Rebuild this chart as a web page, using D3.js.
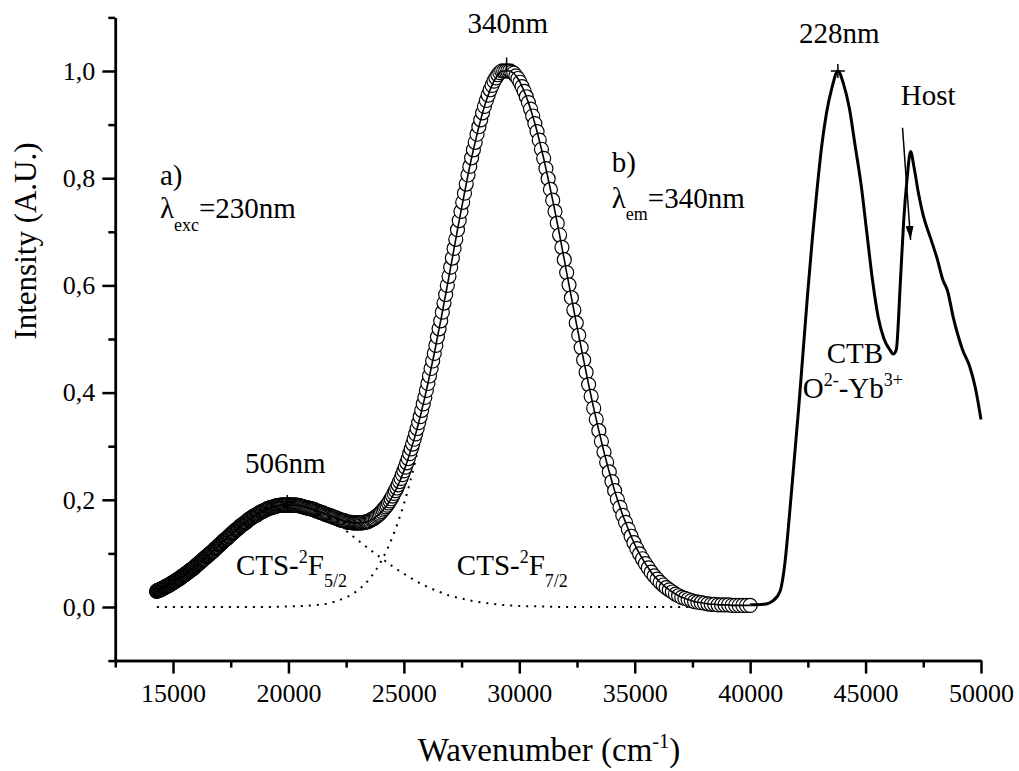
<!DOCTYPE html>
<html>
<head>
<meta charset="utf-8">
<script src="https://cdn.jsdelivr.net/npm/d3@7"></script>
<style>
  body { margin: 0; background: #fff; }
  svg text { font-family: 'Liberation Serif', 'Times New Roman', serif; fill: #000; }
</style>
</head>
<body>
<svg id="chart"></svg>
<script>
// emission spectrum (lambda_exc = 230nm): [wavelength nm, intensity]
const emission = [
  [700,.029],[699,.030],[698,.030],[697,.031],[696,.031],[695,.031],[694,.032],[693,.032],[692,.032],[691,.033],
  [690,.033],[689,.034],[688,.034],[687,.035],[686,.035],[685,.036],[684,.036],[683,.037],[682,.037],[681,.038],
  [680,.038],[679,.039],[678,.039],[677,.040],[676,.040],[675,.041],[674,.041],[673,.042],[672,.042],[671,.043],
  [670,.044],[669,.044],[668,.045],[667,.045],[666,.046],[665,.047],[664,.047],[663,.048],[662,.049],[661,.049],
  [660,.050],[659,.050],[658,.051],[657,.052],[656,.052],[655,.053],[654,.054],[653,.054],[652,.055],[651,.056],
  [650,.057],[649,.057],[648,.058],[647,.059],[646,.060],[645,.060],[644,.061],[643,.062],[642,.063],[641,.063],
  [640,.064],[639,.065],[638,.066],[637,.067],[636,.068],[635,.068],[634,.069],[633,.070],[632,.071],[631,.071],
  [630,.072],[629,.073],[628,.074],[627,.075],[626,.076],[625,.077],[624,.078],[623,.079],[622,.080],[621,.081],
  [620,.082],[619,.083],[618,.084],[617,.085],[616,.086],[615,.087],[614,.088],[613,.089],[612,.090],[611,.091],
  [610,.091],[609,.093],[608,.094],[607,.095],[606,.096],[605,.097],[604,.098],[603,.099],[602,.100],[601,.101],
  [600,.102],[599,.103],[598,.104],[597,.105],[596,.106],[595,.108],[594,.109],[593,.110],[592,.111],[591,.112],
  [590,.113],[589,.115],[588,.116],[587,.117],[586,.118],[585,.119],[584,.120],[583,.122],[582,.123],[581,.124],
  [580,.125],[579,.126],[578,.127],[577,.128],[576,.129],[575,.131],[574,.132],[573,.133],[572,.134],[571,.136],
  [570,.137],[569,.138],[568,.139],[567,.140],[566,.141],[565,.143],[564,.144],[563,.145],[562,.146],[561,.147],
  [560,.148],[559,.150],[558,.151],[557,.152],[556,.153],[555,.154],[554,.155],[553,.156],[552,.157],[551,.158],
  [550,.159],[549,.161],[548,.162],[547,.163],[546,.164],[545,.165],[544,.166],[543,.167],[542,.168],[541,.169],
  [540,.170],[539,.171],[538,.171],[537,.172],[536,.173],[535,.174],[534,.175],[533,.176],[532,.177],[531,.178],
  [530,.178],[529,.179],[528,.180],[527,.181],[526,.181],[525,.182],[524,.183],[523,.184],[522,.184],[521,.185],
  [520,.185],[519,.186],[518,.186],[517,.187],[516,.187],[515,.188],[514,.188],[513,.189],[512,.189],[511,.189],
  [510,.189],[509,.190],[508,.190],[507,.190],[506,.190],[505,.190],[504,.190],[503,.190],[502,.190],[501,.190],
  [500,.191],[499,.190],[498,.190],[497,.190],[496,.190],[495,.190],[494,.190],[493,.190],[492,.190],[491,.190],
  [490,.189],[489,.189],[488,.189],[487,.188],[486,.188],[485,.187],[484,.187],[483,.186],[482,.186],[481,.185],
  [480,.185],[479,.184],[478,.184],[477,.183],[476,.183],[475,.182],[474,.182],[473,.181],[472,.180],[471,.179],
  [470,.179],[469,.178],[468,.177],[467,.176],[466,.176],[465,.175],[464,.174],[463,.173],[462,.173],[461,.172],
  [460,.171],[459,.170],[458,.170],[457,.169],[456,.168],[455,.167],[454,.167],[453,.166],[452,.165],[451,.164],
  [450,.163],[449,.162],[448,.162],[447,.161],[446,.161],[445,.160],[444,.159],[443,.158],[442,.158],[441,.158],
  [440,.158],[439,.157],[438,.157],[437,.157],[436,.157],[435,.157],[434,.157],[433,.157],[432,.157],[431,.157],
  [430,.158],[429,.158],[428,.159],[427,.159],[426,.160],[425,.161],[424,.163],[423,.164],[422,.165],[421,.167],
  [420,.169],[419,.171],[418,.173],[417,.175],[416,.178],[415,.181],[414,.184],[413,.187],[412,.190],[411,.194],
  [410,.198],[409,.202],[408,.207],[407,.212],[406,.217],[405,.222],[404,.228],[403,.234],[402,.240],[401,.247],
  [400,.254],[399,.261],[398,.269],[397,.277],[396,.286],[395,.295],[394,.304],[393,.313],[392,.323],[391,.333],
  [390,.344],[389,.355],[388,.367],[387,.379],[386,.391],[385,.404],[384,.417],[383,.431],[382,.445],[381,.459],
  [380,.473],[379,.488],[378,.504],[377,.519],[376,.534],[375,.550],[374,.567],[373,.583],[372,.600],[371,.617],
  [370,.634],[369,.651],[368,.669],[367,.686],[366,.704],[365,.721],[364,.738],[363,.755],[362,.772],[361,.789],
  [360,.806],[359,.822],[358,.838],[357,.853],[356,.867],[355,.882],[354,.896],[353,.909],[352,.922],[351,.934],
  [350,.945],[349,.955],[348,.965],[347,.973],[346,.981],[345,.987],[344,.993],[343,.997],[342,1.0],[341,1.0],
  [340,1.0],[339,1.0],[338,1.0],[337,.998],[336,.996],[335,.991],[334,.986],[333,.979],[332,.971],[331,.962],
  [330,.952],[329,.941],[328,.929],[327,.916],[326,.902],[325,.887],[324,.871],[323,.854],[322,.837],[321,.818],
  [320,.799],[319,.779],[318,.759],[317,.738],[316,.716],[315,.694],[314,.671],[313,.648],[312,.624],[311,.601],
  [310,.577],[309,.554],[308,.530],[307,.507],[306,.484],[305,.461],[304,.438],[303,.415],[302,.393],[301,.371],
  [300,.350],[299,.329],[298,.309],[297,.289],[296,.270],[295,.252],[294,.234],[293,.217],[292,.201],[291,.186],
  [290,.171],[289,.158],[288,.145],[287,.132],[286,.120],[285,.109],[284,.099],[283,.090],[282,.081],[281,.073],
  [280,.065],[279,.058],[278,.052],[277,.046],[276,.041],[275,.036],[274,.032],[273,.028],[272,.024],[271,.021],
  [270,.018],[269,.016],[268,.014],[267,.012],[266,.010],[265,.009],[264,.008],[263,.007],[262,.006],[261,.005],
  [260,.005],[259,.004],[258,.004],[257,.004],[256,.004],[255,.003],[254,.003],[253,.003],[252,.003],[251,.003],
  [250,.003]
];

// fitted components: [wavenumber cm-1, intensity]
const compF52 = [
  [14300,.030],[14500,.034],[15000,.046],[15500,.060],[16000,.077],[16500,.096],[17000,.115],[17500,.135],
  [18000,.153],[18500,.169],[19000,.181],[19500,.188],[19900,.190],[20500,.187],[21000,.180],[21500,.170],
  [22000,.157],[22500,.142],[23000,.125],[23500,.108],[24000,.092],[24500,.076],[25000,.062],[25500,.049],
  [26000,.038],[26500,.029],[27000,.021],[27500,.016],[28000,.011],[28500,.008],[29000,.005],[30000,.002],
  [31000,.001],[32000,0],[34000,0],[37000,0],[40000,0]
];
const compF72 = [
  [14300,0],[17000,0],[19000,0],[20000,.001],[21000,.003],[21500,.005],[22000,.010],[22500,.018],
  [23000,.031],[23500,.052],[24000,.084],[24500,.130],[25000,.192],[25500,.273],[26000,.371],[26500,.485],
  [27000,.607],[27500,.729],[28000,.839],[28500,.928],[29000,.983],[29450,1.0],[30000,.979],[30500,.926],
  [31000,.846],[31500,.746],[32000,.636],[32500,.523],[33000,.416],[33500,.319],[34000,.237],[34500,.169],
  [35000,.117],[35500,.078],[36000,.051],[36500,.031],[37000,.019],[37500,.011],[38000,.006],[38500,.003],
  [39000,.002],[39500,.001],[40000,0]
];

// excitation spectrum (lambda_em = 340nm): [wavenumber cm-1, intensity]
const excitation = [
  [40000,.004],[40600,.005],[41000,.012],[41300,.03],[41500,.08],[41700,.17],[41900,.27],[42100,.37],
  [42300,.48],[42500,.59],[42700,.69],[42900,.78],[43100,.86],[43300,.92],[43550,.97],[43800,1.0],
  [44050,.975],[44300,.93],[44550,.86],[44800,.79],[45050,.70],[45300,.61],[45550,.54],[45800,.50],
  [46050,.48],[46200,.472],[46330,.48],[46500,.60],[46650,.72],[46800,.80],[46950,.85],[47100,.82],
  [47300,.77],[47500,.73],[47800,.69],[48100,.65],[48350,.61],[48550,.59],[48800,.54],[49050,.50],
  [49200,.48],[49500,.45],[49750,.41],[50000,.35]
];

const peakMarks = [[19950, .196], [29450, 1.012], [43800, 1.0]];
const hostArrow = [[46600, .894], [46950, .685]];

const xMajor = [15000, 20000, 25000, 30000, 35000, 40000, 45000, 50000];
const xMinor = [12500, 17500, 22500, 27500, 32500, 37500, 42500, 47500];
const yMajor = [0, .2, .4, .6, .8, 1.0];
const yMinor = [-.1, .1, .3, .5, .7, .9, 1.1];

const width = 1019;
const height = 771;
const margin = { left: 115.3, right: 38, top: 17.4, bottom: 110.4 };

const svg = d3.select('#chart').attr('width', width).attr('height', height);

const x = d3.scaleLinear().domain([12500, 50000]).range([margin.left, width - margin.right]);
const y = d3.scaleLinear().domain([-0.1, 1.1]).range([height - margin.bottom, margin.top]);

const fmt = v => d3.format('.1f')(v).replace('.', ',');

// axes
function styleAxis(g) {
  g.attr('font-size', 26);
  g.selectAll('path, line').attr('stroke', '#000').attr('stroke-width', 2.5);
  g.selectAll('text').attr('fill', '#000');
}

svg.append('g')
  .attr('transform', `translate(0,${height - margin.bottom})`)
  .call(d3.axisBottom(x).tickValues(xMinor).tickSize(7).tickSizeOuter(0).tickFormat(''))
  .call(styleAxis);
svg.append('g')
  .attr('transform', `translate(0,${height - margin.bottom})`)
  .call(d3.axisBottom(x).tickValues(xMajor).tickSize(13).tickSizeOuter(0).tickPadding(10).tickFormat(d3.format('d')))
  .call(styleAxis);

svg.append('g')
  .attr('transform', `translate(${margin.left},0)`)
  .call(d3.axisLeft(y).tickValues(yMinor).tickSize(7).tickSizeOuter(0).tickFormat(''))
  .call(styleAxis);
svg.append('g')
  .attr('transform', `translate(${margin.left},0)`)
  .call(d3.axisLeft(y).tickValues(yMajor).tickSize(13).tickSizeOuter(0).tickPadding(7).tickFormat(fmt))
  .call(styleAxis);

// rich text helper (sub / superscripts)
function richText(parent, px, py, parts, size, anchor) {
  const t = parent.append('text')
    .attr('x', px).attr('y', py)
    .attr('font-size', size)
    .attr('text-anchor', anchor || 'start');
  let shift = 0;
  parts.forEach(p => {
    const target = p.sup ? -0.4 * size : p.sub ? 0.42 * size : 0;
    t.append('tspan')
      .attr('dy', target - shift)
      .attr('font-size', p.sup || p.sub ? size * 0.62 : size)
      .text(p.t);
    shift = target;
  });
  return t;
}

// axis titles
svg.append('text')
  .attr('transform', 'translate(36,241) rotate(-90)')
  .attr('text-anchor', 'middle')
  .attr('font-size', 31)
  .text('Intensity (A.U.)');

richText(svg, 549, 761, [{ t: 'Wavenumber (cm' }, { t: '-1', sup: true }, { t: ')' }], 33, 'middle');

// dotted gaussian components
const curveLine = d3.line().x(d => x(d[0])).y(d => y(d[1])).curve(d3.curveMonotoneX);
[compF52, compF72].forEach(comp => {
  svg.append('path')
    .datum(comp)
    .attr('d', curveLine)
    .attr('fill', 'none')
    .attr('stroke', '#000')
    .attr('stroke-width', 2)
    .attr('stroke-dasharray', '2,6');
});

// emission data as open circles
const emissionWn = emission.map(d => [1e7 / d[0], d[1]]);
svg.append('g')
  .selectAll('circle')
  .data(emissionWn)
  .enter().append('circle')
  .attr('cx', d => x(d[0]))
  .attr('cy', d => y(d[1]))
  .attr('r', 7)
  .attr('fill', '#fff')
  .attr('stroke', '#000')
  .attr('stroke-width', 1.2);

// fit line through the data
svg.append('path')
  .datum(emissionWn.slice().sort((a, b) => a[0] - b[0]))
  .attr('d', curveLine)
  .attr('fill', 'none')
  .attr('stroke', '#000')
  .attr('stroke-width', 1.6);

// excitation spectrum
svg.append('path')
  .datum(excitation)
  .attr('d', curveLine)
  .attr('fill', 'none')
  .attr('stroke', '#000')
  .attr('stroke-width', 3);

// peak crosses
peakMarks.forEach(([wn, v]) => {
  const cx = x(wn);
  const cy = y(v);
  svg.append('path')
    .attr('d', `M${cx - 7},${cy}H${cx + 7}M${cx},${cy - 7}V${cy + 7}`)
    .attr('stroke', '#000')
    .attr('stroke-width', 1.5);
});

// host arrow
svg.append('defs').append('marker')
  .attr('id', 'arrow')
  .attr('markerUnits', 'userSpaceOnUse')
  .attr('markerWidth', 14).attr('markerHeight', 8)
  .attr('refX', 14).attr('refY', 4)
  .attr('orient', 'auto')
  .append('path').attr('d', 'M0,0L14,4L0,8Z').attr('fill', '#000');

svg.append('line')
  .attr('x1', x(hostArrow[0][0])).attr('y1', y(hostArrow[0][1]))
  .attr('x2', x(hostArrow[1][0])).attr('y2', y(hostArrow[1][1]))
  .attr('stroke', '#000').attr('stroke-width', 1.5)
  .attr('marker-end', 'url(#arrow)');

// annotations, placed in data coordinates
const labels = [
  { at: [18116, .25], parts: [{ t: '506nm' }] },
  { at: [29504, 1.071], parts: [{ t: '340nm' }], anchor: 'middle' },
  { at: [43858, 1.052], parts: [{ t: '228nm' }], anchor: 'middle' },
  { at: [46523, .937], parts: [{ t: 'Host' }] },
  { at: [43317, .455], parts: [{ t: 'CTB' }] },
  { at: [42278, .39], parts: [{ t: 'O' }, { t: '2-', sup: true }, { t: '-Yb' }, { t: '3+', sup: true }] },
  { at: [14435, .787], parts: [{ t: 'a)' }] },
  { at: [14435, .725], parts: [{ t: 'λ' }, { t: 'exc', sub: true }, { t: '=230nm' }] },
  { at: [34007, .812], parts: [{ t: 'b)' }] },
  { at: [34007, .745], parts: [{ t: 'λ' }, { t: 'em', sub: true }, { t: '=340nm' }] },
  { at: [17726, .06], parts: [{ t: 'CTS-' }, { t: '2', sup: true }, { t: 'F' }, { t: '5/2', sub: true }] },
  { at: [27296, .06], parts: [{ t: 'CTS-' }, { t: '2', sup: true }, { t: 'F' }, { t: '7/2', sub: true }] }
];

labels.forEach(l => {
  richText(svg, x(l.at[0]), y(l.at[1]), l.parts, 29, l.anchor);
});
</script>
</body>
</html>
